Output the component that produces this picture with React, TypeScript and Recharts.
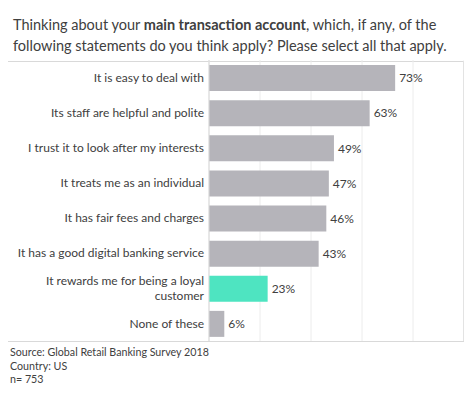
import React from "react";
import { BarChart, Bar, XAxis, YAxis, CartesianGrid, LabelList, Cell } from "recharts";

const categories = [
  "It is easy to deal with",
  "Its staff are helpful and polite",
  "I trust it to look after my interests",
  "It treats me as an individual",
  "It has fair fees and charges",
  "It has a good digital banking service",
  "It rewards me for being a loyal customer",
  "None of these",
];
const values = [73, 63, 49, 47, 46, 43, 23, 6];
const highlighted = [false, false, false, false, false, false, true, false];
const xTicks = [0, 20, 40, 60, 80, 100];

const data = categories.map((c, i) => ({ name: c, value: values[i], hi: highlighted[i] }));

const FONT = "Lato, 'Open Sans', sans-serif";
const TEXT = "#404040";
const MAX_CHARS = 38;
const LINE_H = 15;

function wrap(s: string): string[] {
  const words = s.split(" ");
  const lines: string[] = [];
  let cur = "";
  for (const w of words) {
    const next = cur ? cur + " " + w : w;
    if (next.length > MAX_CHARS && cur) {
      lines.push(cur);
      cur = w;
    } else {
      cur = next;
    }
  }
  if (cur) lines.push(cur);
  return lines;
}

const CategoryTick = (props: any) => {
  const { x, y, payload } = props;
  const lines = wrap(String(payload.value));
  const startY = y + 4.2 - ((lines.length - 1) * LINE_H) / 2;
  return (
    <text x={x + 3} y={startY} textAnchor="end" fontSize={12} fontFamily={FONT} fill={TEXT}>
      {lines.map((l, i) => (
        <tspan key={i} x={x + 3} dy={i === 0 ? 0 : LINE_H}>
          {l}
        </tspan>
      ))}
    </text>
  );
};

export default function App() {
  return (
    <div style={{ position: "absolute", left: 0, top: 0, width: 474, height: 395, background: "#fff", fontFamily: FONT, color: TEXT }}>
      <div style={{ position: "absolute", left: 13, top: 14, fontSize: 14.5, lineHeight: "21px", whiteSpace: "nowrap" }}>
        <div>Thinking about your <b>main transaction account</b>, which, if any, of the</div>
        <div>following statements do you think apply? Please select all that apply.</div>
      </div>
      <div
        style={{
          position: "absolute",
          left: 8,
          top: 61,
          width: 455,
          height: 279,
          borderTop: "1px solid #d9d9d9",
          borderRight: "1px solid #d9d9d9",
          borderBottom: "1px solid #d9d9d9",
        }}
      />
      <div style={{ position: "absolute", left: 8, top: 60 }}>
        <BarChart
          width={456}
          height={281}
          data={data}
          layout="vertical"
          margin={{ top: 0, right: 0, bottom: 0, left: 0 }}
        >
          <CartesianGrid horizontal={false} vertical={true} stroke="#ececec" />
          <XAxis type="number" domain={[0, 100]} ticks={xTicks} hide />
          <YAxis
            type="category"
            dataKey="name"
            width={201}
            axisLine={{ stroke: "#d9d9d9" }}
            tickLine={false}
            tick={<CategoryTick />}
            interval={0}
          />
          <Bar dataKey="value" barSize={26} isAnimationActive={false}>
            {data.map((d, i) => (
              <Cell key={i} fill={d.hi ? "#4ee4c1" : "#b5b4ba"} />
            ))}
            <LabelList
              dataKey="value"
              position="right"
              offset={4}
              formatter={(v: any) => `${v}%`}
              style={{ fontSize: 12, fontFamily: FONT, fill: TEXT }}
            />
          </Bar>
        </BarChart>
      </div>
      <div style={{ position: "absolute", left: 10, top: 345, fontSize: 10.7, lineHeight: "13.5px" }}>
        <div>Source: Global Retail Banking Survey 2018</div>
        <div>Country: US</div>
        <div>n= 753</div>
      </div>
    </div>
  );
}
